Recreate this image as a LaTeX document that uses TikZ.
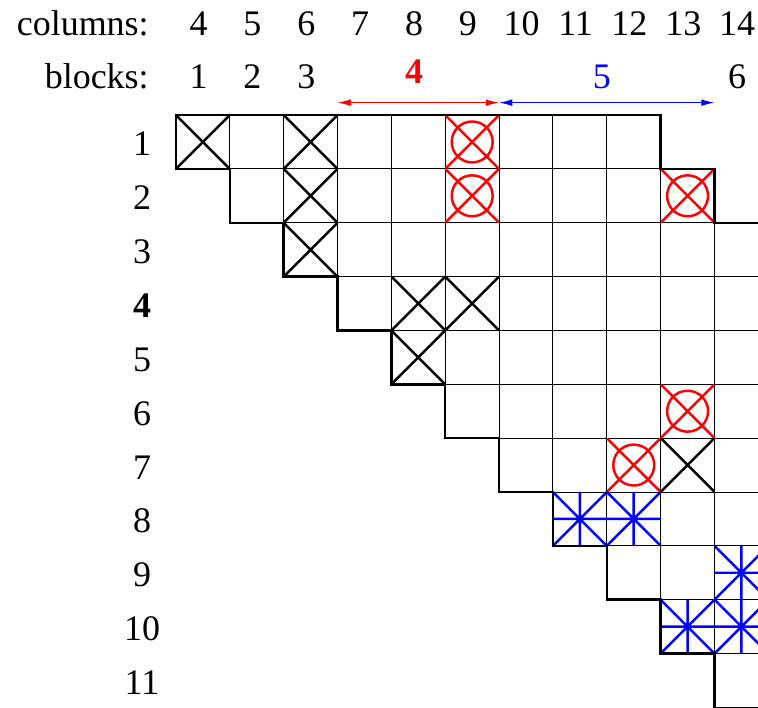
\documentclass[tikz,border=0pt]{standalone}
\usepackage{fontspec}
\setmainfont{Liberation Serif}
\usetikzlibrary{arrows.meta}

\begin{document}
\begin{tikzpicture}
	[font=\fontsize{19}{23}\selectfont,
	cell/.style	= {draw, line width=0.5pt},
	outline/.style	= {line width=1.3pt, line join=miter},
	hdr/.style	= {anchor=base, inner sep=0pt},
	markbox/.style	= {rectangle, inner sep=0pt, minimum size=1cm},
	cross/.style	= {markbox, path picture={\draw[line width=1.3pt]
		(path picture bounding box.north west) -- (path picture bounding box.south east)
		(path picture bounding box.north east) -- (path picture bounding box.south west);}},
	ocross/.style	= {markbox, path picture={\draw[red, line width=1.3pt]
		(path picture bounding box.north west) -- (path picture bounding box.south east)
		(path picture bounding box.north east) -- (path picture bounding box.south west)
		(path picture bounding box.center) circle (0.38);}},
	star/.style	= {markbox, path picture={\draw[blue, line width=1.3pt]
		(path picture bounding box.north west) -- (path picture bounding box.south east)
		(path picture bounding box.north east) -- (path picture bounding box.south west)
		(path picture bounding box.north) -- (path picture bounding box.south)
		(path picture bounding box.west) -- (path picture bounding box.east);}},
	span/.style	= {<->, >={Latex[length=7pt, width=3.6pt]}, line width=0.6pt}]
	
	\useasboundingbox (0.232,-11.493) rectangle (14.308,1.636);
	
	% header rows
	\node at (3.0, 0.986)	[anchor=base east, inner sep=0pt]	(colhdr)	{columns:};
	\node at (3.0, 0)		[anchor=base east, inner sep=0pt]	(blkhdr)	{blocks:};
	\foreach \c in {4,...,14}
		\node at (\c-0.08, 0.986) [hdr] (col\c) {\c};
	
	\node at (3.92, 0)		[hdr]	(blk1)	{1};
	\node at (4.92, 0)		[hdr]	(blk2)	{2};
	\node at (5.92, 0)		[hdr]	(blk3)	{3};
	\node at (7.92, 0.09)	[hdr, red]	(blk4)	{\textbf{4}};
	\node at (11.41, 0)		[hdr, blue]	(blk5)	{5};
	\node at (13.92, 0)		[hdr]	(blk6)	{6};
	
	\coordinate (span7)		at (6.5, -0.27);
	\coordinate (span10)	at (9.5, -0.27);
	\coordinate (span14)	at (13.5, -0.27);
	\draw [span, red]	(span7) -- (span10);
	\draw [span, blue]	(span10) -- (span14);
	
	% row numbers
	\foreach \r in {1,2,3,5,6,7,8,9,10,11}
		\node at (2.87, -\r-0.26) [hdr] (row\r) {\r};
	\node at (2.87, -4.26)	[hdr]	(row4)	{\textbf{4}};
	
	\begin{scope}
		\clip (0.232,-11.493) rectangle (14.308,1.636);
		
		% the cells of each row
		\foreach \r/\a/\b in {1/4/12, 2/5/13, 3/6/15, 4/7/15, 5/8/15, 6/9/15,
			7/10/15, 8/11/15, 9/12/15, 10/13/15, 11/14/15}
			\foreach \c in {\a,...,\b}
				\draw [cell] (\c-0.5, -\r+0.5) rectangle ++(1,-1);
		
		\node at (4, -1)	[cross]		(r1c4)		{};
		\node at (6, -1)	[cross]		(r1c6)		{};
		\node at (9, -1)	[ocross]	(r1c9)		{};
		\node at (6, -2)	[cross]		(r2c6)		{};
		\node at (9, -2)	[ocross]	(r2c9)		{};
		\node at (13, -2)	[ocross]	(r2c13)		{};
		\node at (6, -3)	[cross]		(r3c6)		{};
		\node at (8, -4)	[cross]		(r4c8)		{};
		\node at (9, -4)	[cross]		(r4c9)		{};
		\node at (8, -5)	[cross]		(r5c8)		{};
		\node at (13, -6)	[ocross]	(r6c13)		{};
		\node at (12, -7)	[ocross]	(r7c12)		{};
		\node at (13, -7)	[cross]		(r7c13)		{};
		\node at (11, -8)	[star]		(r8c11)		{};
		\node at (12, -8)	[star]		(r8c12)		{};
		\node at (14, -9)	[star]		(r9c14)		{};
		\node at (13, -10)	[star]		(r10c13)	{};
		\node at (14, -10)	[star]		(r10c14)	{};
		
		% outline with the staircase
		\draw [outline] (15,-2.5) -- (13.5,-2.5) -- (13.5,-1.5) -- (12.5,-1.5) -- (12.5,-0.5) -- (3.5,-0.5)
			|- (4.5,-1.5) |- (5.5,-2.5) |- (6.5,-3.5) |- (7.5,-4.5) |- (8.5,-5.5) |- (9.5,-6.5)
			|- (10.5,-7.5) |- (11.5,-8.5) |- (12.5,-9.5) |- (13.5,-10.5) -- (13.5,-12);
	\end{scope}
	
\end{tikzpicture}
\end{document}
